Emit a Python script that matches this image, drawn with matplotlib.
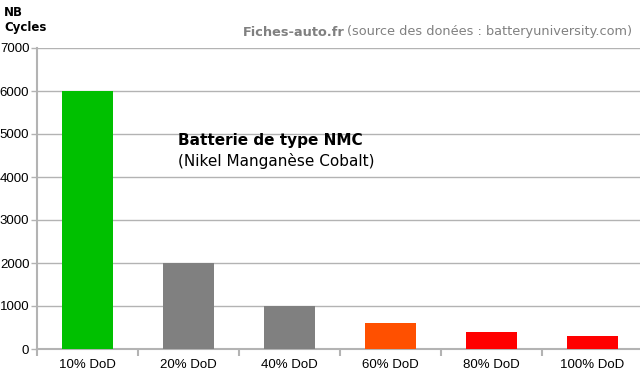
import matplotlib.pyplot as plt
from matplotlib.ticker import MultipleLocator

categories = ['10% DoD', '20% DoD', '40% DoD', '60% DoD', '80% DoD', '100% DoD']
cycles = [6000, 2000, 1000, 600, 400, 300]
colors = ['#00c000', '#808080', '#808080', '#ff5000', '#ff0000', '#ff0000']

plt.rcParams['font.family'] = 'Liberation Sans'

fig = plt.figure(figsize=(6.4, 3.74), dpi=100)
# right edge runs a little past the image, like the original
ax = fig.add_axes([37 / 640, 25 / 374, 606 / 640, 301 / 374])

x = list(range(len(categories)))
ax.bar(x, cycles, width=0.5, color=colors, zorder=3)

ax.set_xlim(-0.5, len(categories) - 0.5)
ax.set_ylim(0, 7000)
ax.yaxis.set_major_locator(MultipleLocator(1000))
ax.grid(axis='y', color='#b3b3b3', linewidth=1, zorder=0)

ax.set_xticks([i - 0.5 for i in range(len(categories) + 1)])
ax.set_xticklabels([])
ax.set_xticks(x, minor=True)
ax.set_xticklabels(categories, minor=True, fontsize=9.5)
ax.tick_params(axis='x', which='minor', length=0, pad=7)
ax.tick_params(axis='x', which='major', length=5, color='#b3b3b3', width=1.5)
ax.tick_params(axis='y', length=4, color='#b3b3b3', width=1, labelsize=9.5, pad=1.5)

for side in ['top', 'right']:
    ax.spines[side].set_visible(False)
ax.spines['left'].set_color('#b3b3b3')
ax.spines['bottom'].set_color('#b3b3b3')
ax.spines['left'].set_linewidth(1.5)
ax.spines['bottom'].set_linewidth(1.5)

title_font = 'DejaVu Sans'
fig.text(4 / 640, 1 - 12 / 374, 'NB', fontsize=8.5, fontweight='bold',
         va='center', family=title_font)
fig.text(4 / 640, 1 - 27 / 374, 'Cycles', fontsize=8.5, fontweight='bold',
         va='center', family=title_font)

t = fig.text(632 / 640, 1 - 32 / 374, '(source des donées : batteryuniversity.com)',
             fontsize=9.3, color='#808080', ha='right', va='center', family=title_font)
fig.canvas.draw()
bb = t.get_window_extent()
fig.text(bb.x0 / 640 - 0.004, 1 - 32 / 374, 'Fiches-auto.fr', fontsize=9.3,
         fontweight='bold', color='#808080', ha='right', va='center', family=title_font)

ax.text(0.9, 4850, 'Batterie de type NMC', fontsize=11, fontweight='bold',
        va='center', family=title_font)
ax.text(0.9, 4370, '(Nikel Manganèse Cobalt)', fontsize=11, va='center',
        family=title_font)

fig.savefig('out.png', dpi=100)
